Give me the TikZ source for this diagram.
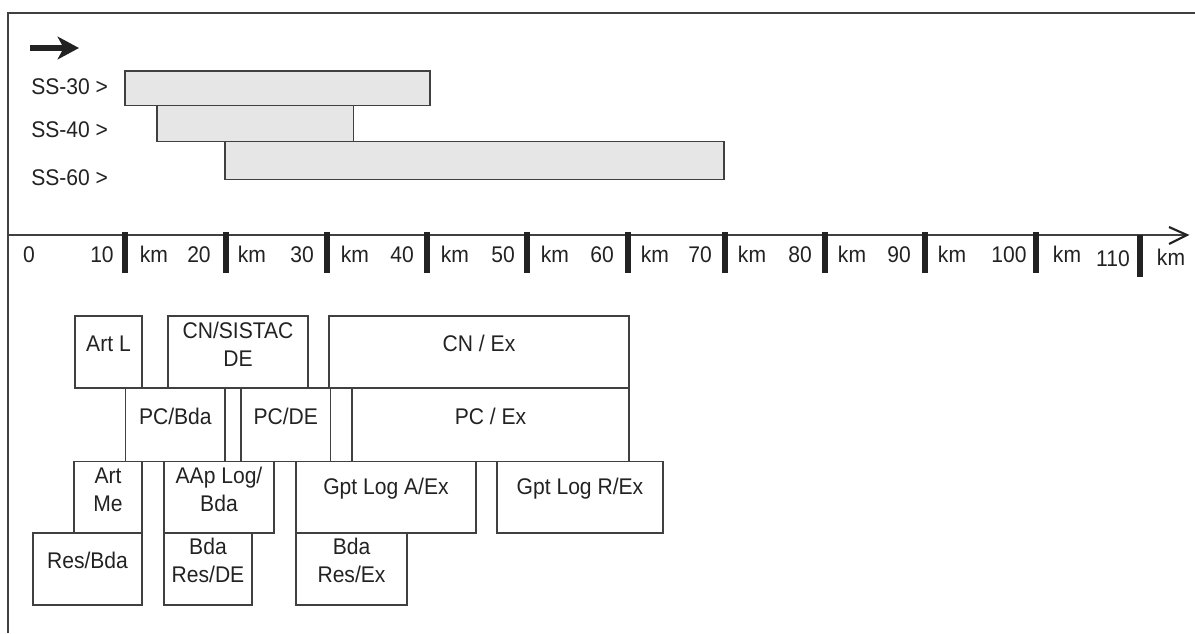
\documentclass[tikz,border=0pt]{standalone}
\usepackage{fontspec}
\setmainfont{Liberation Sans}[FakeStretch=0.93]
\usetikzlibrary{fit,arrows.meta}
\definecolor{ln}{HTML}{404040}
\definecolor{barfill}{HTML}{E6E6E6}
\definecolor{txt}{HTML}{222222}
\newcommand\lbl{\fontsize{17}{21}\selectfont}
\tikzset{
  box/.style={draw=ln, line width=1.1pt, inner sep=0pt, align=center, text=txt, font=\lbl},
  barbox/.style={box, fill=barfill},
  lab/.style={inner sep=0pt, text=txt, font=\lbl},
  tickmark/.style={line width=4.5pt, draw=txt},
  frameline/.style={draw=ln, line width=1.5pt},
}
\begin{document}
\begin{tikzpicture}[x=0.75pt,y=-0.75pt]
\useasboundingbox (0,0) rectangle (1195,633);
% frame
\draw[frameline] (8,633) -- (8,13) -- (1195,13);
% top arrow
\coordinate (a0) at (30,48);
\coordinate (a1) at (79,48);
\draw[line width=4.2pt, draw=txt, -{Stealth[length=16pt,width=17pt,inset=4.5pt]}] (a0) -- (a1);
% SS bars
\node[lab, anchor=base west] (ss30) at (31,94) {SS-30 >};
\node[lab, anchor=base west] (ss40) at (31,137) {SS-40 >};
\node[lab, anchor=base west] (ss60) at (31,185) {SS-60 >};
\node[barbox, fit={(225,141.7) (724,179.3)}] (b60) {};
\node[barbox, fit={(157,105.7) (353.7,141.7)}] (b40) {};
\node[barbox, fit={(125,71) (430,105.7)}] (b30) {};
% axis
\coordinate (ax0) at (8,235);
\coordinate (ax1) at (1187,235);
\draw[draw=ln, line width=1.1pt] (ax0) -- (ax1);
\draw[draw=txt, line width=1.6pt] (1169,227) -- (ax1) -- (1169,244);
\foreach \x in {125,226,327,427,527,628,725,825,925,1036}
  \draw[tickmark] (\x,232) -- (\x,273);
\draw[tickmark] (1140,235) -- (1140,277);
\foreach \t/\x in {0/29,10/102,20/199,30/302,40/402,50/503,60/602,70/700,80/800,90/899,100/1009}
  \node[lab, anchor=base] (n\t) at (\x,262) {\t};
\foreach \x [count=\i] in {154,252,355,455,555,655,752,852,952,1067}
  \node[lab, anchor=base] (km\i) at (\x,262) {km};
\node[lab, anchor=base] (n110) at (1113,266) {110};
\node[lab, anchor=base] (km11) at (1171,265) {km};
% row 1
\node[box, fit={(75,316) (142,388)}] (artl) {Art L};
\node[box, fit={(168,316) (308,388)}] (cnsis) {CN/SISTAC\\DE};
\node[box, fit={(329,316) (629,388)}] (cnex) {CN / Ex};
% row 2
\node[box, fit={(125.7,388) (225,461.5)}] (pcbda) {PC/Bda};
\node[box, fit={(225,388) (241,461.5)}] (nar1) {};
\node[box, fit={(241,388) (330.5,461.5)}] (pcde) {PC/DE};
\node[box, fit={(330.5,388) (352,461.5)}] (nar2) {};
\node[box, fit={(352,388) (629,461.5)}] (pcex) {PC / Ex};
% row 3
\node[box, fit={(74,461.5) (142,533)}] (artme) {Art\\Me};
\node[box, fit={(164,461.5) (274,533)}] (aap) {AAp Log/\\Bda};
\node[box, fit={(296,461.5) (476,533)}] (gpta) {Gpt Log A/Ex};
\node[box, fit={(497,461.5) (663,533)}] (gptr) {Gpt Log R/Ex};
% row 4
\node[box, fit={(33,533) (142,605)}] (resbda) {Res/Bda};
\node[box, fit={(164,533) (252,605)}] (bdade) {Bda\\Res/DE};
\node[box, fit={(296,533) (407,605)}] (bdaex) {Bda\\Res/Ex};
\end{tikzpicture}
\end{document}
